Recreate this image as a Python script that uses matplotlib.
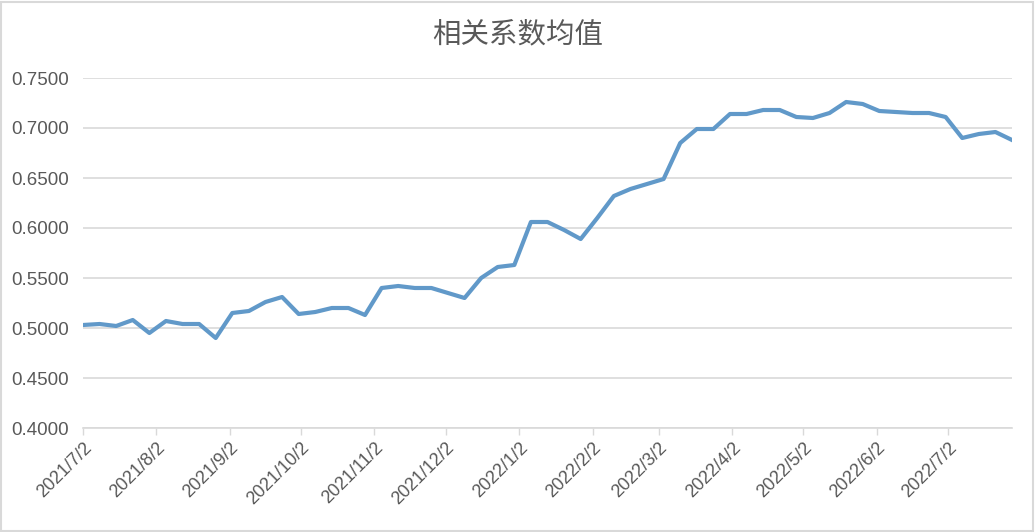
import datetime as dt
import matplotlib
matplotlib.use("Agg")
import matplotlib.pyplot as plt
import matplotlib.dates as mdates
from matplotlib.patches import Rectangle

# weekly mean of correlation coefficient
start = dt.date(2021, 7, 2)
weeks = 57
dates = [start + dt.timedelta(days=7 * i) for i in range(weeks)]
values = [0.503, 0.504, 0.502, 0.508, 0.495, 0.507, 0.504, 0.504, 0.490, 0.515,
          0.517, 0.526, 0.531, 0.514, 0.516, 0.520, 0.520, 0.513, 0.540, 0.542,
          0.540, 0.540, 0.535, 0.530, 0.550, 0.561, 0.563, 0.606, 0.606, 0.598,
          0.589, 0.610, 0.632, 0.639, 0.644, 0.649, 0.685, 0.699, 0.699, 0.714,
          0.714, 0.718, 0.718, 0.711, 0.710, 0.715, 0.726, 0.724, 0.717, 0.716,
          0.715, 0.715, 0.711, 0.690, 0.694, 0.696, 0.688]
title = "相关系数均值"

plt.rcParams['font.family'] = ['Liberation Sans', 'Noto Sans CJK SC', 'DejaVu Sans']

W, H = 1035, 532
fig = plt.figure(figsize=(W / 100, H / 100), dpi=100)
ax = fig.add_axes([83 / W, (H - 428) / H, (1012 - 83) / W, (428 - 78) / H])

ax.plot(dates, values, color='#6199C9', lw=3.0, solid_joinstyle='round')

ax.set_ylim(0.40, 0.75)
ax.set_yticks([0.40 + 0.05 * i for i in range(8)])
ax.yaxis.set_major_formatter(plt.FuncFormatter(lambda v, p: f"{v:.4f}"))
ax.set_xlim(dates[0], dates[-1])
ax.xaxis.set_major_locator(mdates.MonthLocator(bymonthday=2))
ax.xaxis.set_major_formatter(plt.FuncFormatter(
    lambda v, p: "{0.year}/{0.month}/{0.day}".format(mdates.num2date(v))))

ax.grid(axis='y', color='#D9D9D9', lw=1.2)
ax.set_axisbelow(True)
for s in ['left', 'right', 'top']:
    ax.spines[s].set_visible(False)
ax.spines['bottom'].set_color('#D9D9D9')
ax.spines['bottom'].set_linewidth(1.2)

ax.tick_params(axis='y', length=0, pad=10, labelsize=13.5, labelcolor='#595959')
ax.tick_params(axis='x', length=5, width=1, color='#D9D9D9', pad=3,
               labelsize=13, labelcolor='#595959')
for lab in ax.get_xticklabels():
    lab.set_rotation(45)
    lab.set_ha('right')
    lab.set_va('top')
    lab.set_rotation_mode('anchor')

fig.text(0.5, 1 - 34 / H, title, ha='center', va='center', fontsize=20.5,
         color='#595959', family=['Noto Sans CJK SC', 'DejaVu Sans'])

fig.patches.append(Rectangle((0.001, 0.002), 0.997, 0.995, transform=fig.transFigure,
                             fill=False, edgecolor='#D9D9D9', lw=1.5))

fig.savefig('out.png', dpi=100)
